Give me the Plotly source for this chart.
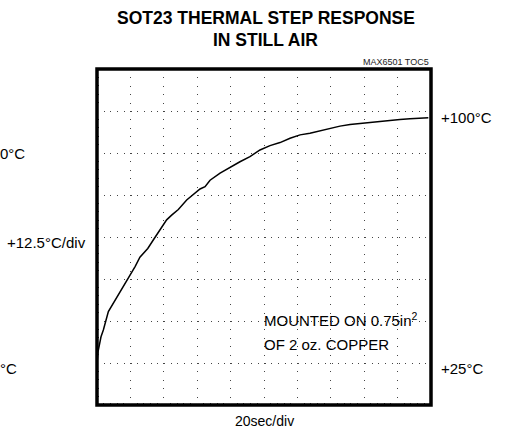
import plotly.graph_objects as go

# ---- data (time in s, temperature in °C) ----
time_s = [0, 0.3, 0.6, 2.4, 3.8, 6.8, 9.8, 12.8, 16.3, 20.4, 22.8, 25.7, 30.4, 33.7,
          37.7, 41.7, 44.7, 48.7, 53.7, 58.7, 61.7, 64.7, 67.7, 73.7, 79.6, 85.6,
          91.6, 97.6, 103.6, 109.6, 115.6, 121.6, 127.5, 133.5, 139.5, 145.5,
          151.5, 157.5, 163.5, 169.5, 175.4, 181.4, 187.4, 193.4, 198.4]
temp_c = [25.0, 27.0, 28.3, 32.8, 34.8, 40.3, 42.8, 45.5, 48.2, 51.4, 53.7, 56.5, 59.1, 61.6,
          64.8, 67.6, 69.0, 70.7, 73.5, 75.7, 76.8, 77.5, 79.4, 81.5, 83.2, 84.9,
          86.4, 88.4, 89.7, 90.6, 91.9, 92.9, 93.4, 94.1, 94.9, 95.5,
          96.0, 96.3, 96.8, 97.1, 97.3, 97.5, 97.7, 97.8, 98.0]

x_range = [0, 200]          # 10 divisions x 20 s
y_range = [12.5, 112.5]     # 8 divisions x 12.5 °C

title_lines = ["SOT23 THERMAL STEP RESPONSE", "IN STILL AIR"]
note_lines = ["MOUNTED ON 0.75in<sup>2</sup>", "OF 2 oz. COPPER"]

FONT = "Liberation Sans, Arial, sans-serif"

fig = go.Figure()
fig.add_trace(go.Scatter(x=time_s, y=temp_c, mode="lines",
                         line=dict(color="black", width=1.5), hoverinfo="skip",
                         showlegend=False))

fig.update_layout(
    width=506, height=435,
    margin=dict(l=97, r=75, t=69, b=30),
    paper_bgcolor="white", plot_bgcolor="white",
    font=dict(family=FONT, color="black", size=15),
    showlegend=False,
)
fig.update_xaxes(range=x_range, dtick=20, showgrid=True, gridcolor="#444", gridwidth=1,
                 griddash="1px,7.4px", zeroline=False, showticklabels=False,
                 ticks="", mirror="allticks", showline=False,
                 minor=dict(dtick=4, ticks="inside", ticklen=2, tickcolor="#333",
                            tickwidth=1, showgrid=False))
fig.update_yaxes(range=y_range, dtick=12.5, showgrid=True, gridcolor="#444", gridwidth=1,
                 griddash="1px,5.7px", zeroline=False, showticklabels=False,
                 ticks="", mirror="allticks", showline=False,
                 minor=dict(dtick=2.5, ticks="inside", ticklen=2, tickcolor="#333",
                            tickwidth=1, showgrid=False))

# frame
fig.add_shape(type="rect", xref="paper", yref="paper", x0=0, x1=1, y0=0, y1=1,
              line=dict(color="black", width=3.5), layer="above")

# title
fig.add_annotation(text="<b>%s</b>" % title_lines[0], xref="paper", yref="paper",
                   x=0.505, y=1.1518, showarrow=False, xanchor="center", yanchor="middle",
                   font=dict(size=17.5, color="black"))
fig.add_annotation(text="<b>%s</b>" % title_lines[1], xref="paper", yref="paper",
                   x=0.505, y=1.0863, showarrow=False, xanchor="center", yanchor="middle",
                   font=dict(size=17.5, color="black"))
fig.add_annotation(text="MAX6501 TOC5", xref="paper", yref="paper", x=1.0, y=1.0208,
                   showarrow=False, xanchor="right", yanchor="middle",
                   font=dict(size=9, color="#222"))

# right labels
fig.add_annotation(text="+100°C", xref="paper", yref="y", x=1, y=100, xshift=8, yshift=-6,
                   showarrow=False, xanchor="left", yanchor="middle")
fig.add_annotation(text="+25°C", xref="paper", yref="y", x=1, y=25, xshift=8, yshift=-5,
                   showarrow=False, xanchor="left", yanchor="middle")
# left labels (cut at the page edge in the reference)
fig.add_annotation(text="+12.5°C/div", xref="paper", yref="y", x=0, y=62.5, xshift=-9, yshift=-5,
                   showarrow=False, xanchor="right", yanchor="middle")
fig.add_annotation(text="0°C", xref="paper", yref="y", x=-97 / 334, y=87.5, xshift=-2, yshift=0,
                   showarrow=False, xanchor="left", yanchor="middle")
fig.add_annotation(text="°C", xref="paper", yref="y", x=-97 / 334, y=25, xshift=-2, yshift=-5,
                   showarrow=False, xanchor="left", yanchor="middle")
# x label
fig.add_annotation(text="20sec/div", xref="paper", yref="paper", x=0.5, y=-0.0476,
                   showarrow=False, xanchor="center", yanchor="middle", font=dict(size=14))

# in-plot note
fig.add_annotation(text=note_lines[0], xref="x", yref="y", x=98.6, y=37.8,
                   showarrow=False, xanchor="left", yanchor="middle")
fig.add_annotation(text=note_lines[1], xref="x", yref="y", x=98.6, y=30.65,
                   showarrow=False, xanchor="left", yanchor="middle")

fig.write_html("out.html", config={"displayModeBar": False},
               post_script="document.body.style.margin='0';")
